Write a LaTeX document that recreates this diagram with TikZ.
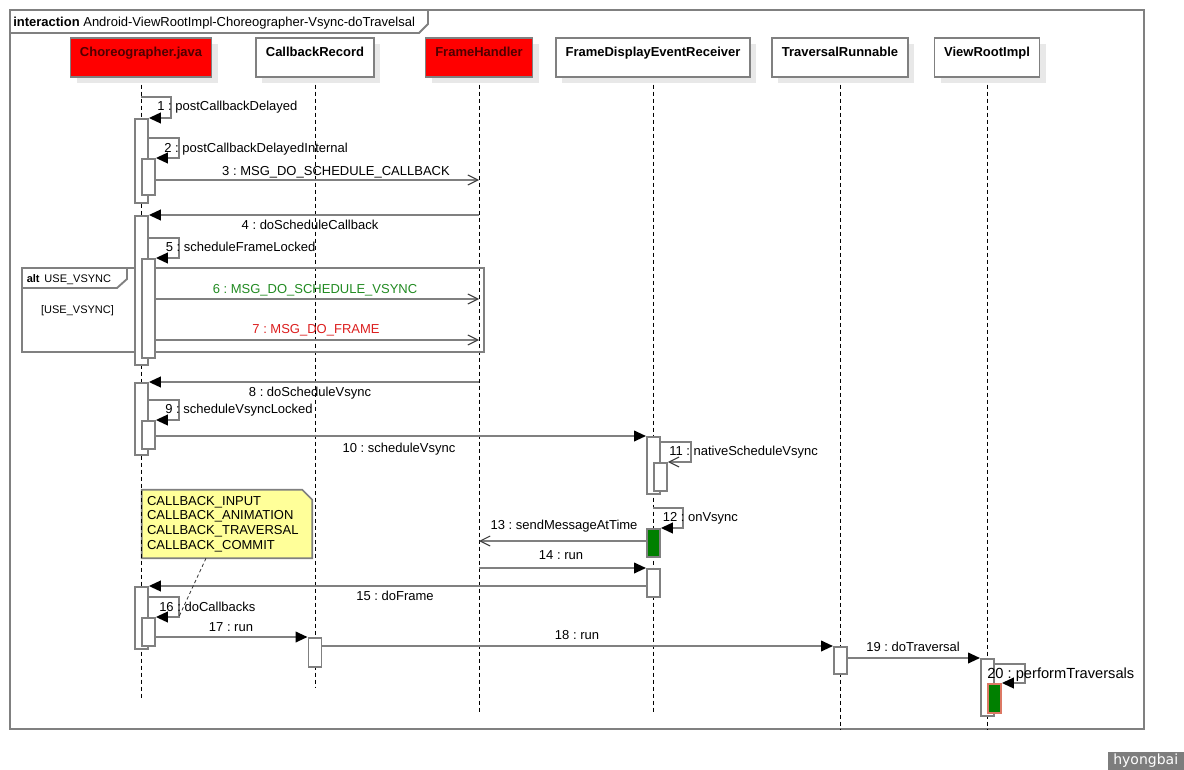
\documentclass[tikz,border=0pt]{standalone}
\usepackage{fontspec}
\setmainfont{Liberation Sans}
\newfontfamily\markfont{DejaVu Sans}
\usetikzlibrary{arrows.meta,shadows,backgrounds}

\definecolor{linegray}{RGB}{128,128,128}
\definecolor{headred}{RGB}{255,0,0}
\definecolor{headtext}{RGB}{80,0,0}
\definecolor{actgreen}{RGB}{0,128,0}
\definecolor{notefill}{RGB}{255,255,153}
\definecolor{shadowgray}{RGB}{232,232,232}
\definecolor{txtgreen}{RGB}{34,139,34}
\definecolor{txtred}{RGB}{220,30,30}
\definecolor{salmon}{RGB}{220,120,100}
\definecolor{markgray}{RGB}{125,125,125}

\begin{document}
\frenchspacing
\begin{tikzpicture}[x=0.75pt,y=-0.75pt,
  every node/.style={font=\fontsize{9.75}{11}\selectfont},
  frame/.style={draw=linegray, line width=1.4pt},
  head/.style={draw=linegray, line width=1.4pt, anchor=north, inner xsep=0pt,
    inner ysep=7pt, text height=7pt, text depth=8.25pt,
    font=\fontsize{9.75}{11}\selectfont\bfseries,
    drop shadow={shadow xshift=4.5pt, shadow yshift=-4.5pt, fill=shadowgray, opacity=1}},
  life/.style={draw=black, line width=0.75pt, dash pattern=on 3pt off 2.25pt},
  act/.style={draw=linegray, line width=1.4pt, fill=white, inner sep=0pt,
    minimum width=9.75pt, anchor=north west},
  msg/.style={draw=linegray, line width=1.4pt},
  call/.style={msg, -{Triangle[length=9pt 0,width=8pt 0,black]}},
  async/.style={msg, -{Straight Barb[length=7.5pt 0,width=7.5pt 0,line width=0.8pt,darkgray]}},
  lbl/.style={inner sep=0pt, text height=7pt, text depth=0pt},
  lblw/.style={lbl, anchor=west},
  note/.style={inner xsep=3.75pt, inner ysep=0pt, text width=120pt, align=left,
    minimum height=51pt},
  notelink/.style={draw=black!80, line width=0.6pt, dash pattern=on 2.5pt off 2pt}
]
\useasboundingbox (0,0) rectangle (1184,770);
\begin{scope}[on background layer]
  \fill[white] (0,0) rectangle (1184,770);
\end{scope}

% interaction frame and its title tab
\draw[frame] (10,10) rectangle (1144,729);
\draw[frame] (10,33) -- (419,33) -- (428,24) -- (428,10);
\node[lblw] (title) at (13,21.5) {\textbf{interaction} Android-ViewRootImpl-Choreographer-Vsync-doTravelsal};

% participants
\node[head, fill=headred, text=headtext, minimum width=105.75pt] (ch) at (141,37) {Choreographer.java};
\node[head, fill=white, minimum width=88.5pt] (cr) at (315,37) {CallbackRecord};
\node[head, fill=headred, text=headtext, minimum width=80.25pt] (fh) at (479,37) {FrameHandler};
\node[head, fill=white, minimum width=145.5pt] (fd) at (653,37) {FrameDisplayEventReceiver};
\node[head, fill=white, minimum width=102pt] (tr) at (840,37) {TraversalRunnable};
\node[head, fill=white, minimum width=78.75pt] (vr) at (987,37) {ViewRootImpl};

% lifelines
\draw[life] ([yshift=-5pt]ch.south) -- (ch |- 0,698);
\draw[life] ([yshift=-5pt]cr.south) -- (cr |- 0,688);
\draw[life] ([yshift=-5pt]fh.south) -- (fh |- 0,712);
\draw[life] ([yshift=-5pt]fd.south) -- (fd |- 0,712);
\draw[life] ([yshift=-5pt]tr.south) -- (tr |- 0,729);
\draw[life] ([yshift=-5pt]vr.south) -- (vr |- 0,729);

% alt fragment
\draw[frame] (22,268) rectangle (484,352);
\draw[frame] (22,288) -- (117,288) -- (127,279) -- (127,268);
\node[lblw, text height=6pt, font=\fontsize{8.25}{10}\selectfont] (altlbl) at (26.5,278.5) {\textbf{alt}\ \,USE\_VSYNC};
\node[lbl, text height=6pt, font=\fontsize{8.25}{10}\selectfont] (guard) at (77.5,309.5) {[USE\_VSYNC]};

% activation bars
\node[act, minimum height=63pt] (c1) at (134,118) {};
\node[act, minimum height=27pt] (c2) at (141,158) {};
\node[act, minimum height=111.75pt] (c3) at (134,215) {};
\node[act, minimum height=74.25pt] (c4) at (141,258) {};
\node[act, minimum height=54pt] (c5) at (134,382) {};
\node[act, minimum height=21pt] (c6) at (141,420) {};
\node[act, minimum height=42.75pt] (f1) at (646,436) {};
\node[act, minimum height=21pt] (f2) at (653,462) {};
\node[act, minimum height=21pt, fill=actgreen] (f3) at (646,528) {};
\node[act, minimum height=21pt] (f4) at (646,568) {};
\node[act, minimum height=46.5pt] (c7) at (134,586) {};
\node[act, minimum height=21pt] (c8) at (141,617) {};
\node[act, minimum height=21.75pt] (r1) at (307.5,637) {};
\node[act, minimum height=20.25pt] (t1) at (833,646) {};
\node[act, minimum height=42.75pt] (v1) at (980,658) {};
\node[act, minimum height=21.75pt, fill=actgreen, draw=salmon] (v2) at (987,683) {};

% messages
\draw[call] (ch |- 0,97) -- ++(30,0) |- (c1.north east);
\node[lblw] (m1) at (157,106) {1 : postCallbackDelayed};
\draw[call] (c1.east |- 0,138) -- ++(30,0) |- (c2.north east);
\node[lblw] (m2) at (164,148) {2 : postCallbackDelayedInternal};
\draw[async] (c2.east |- 0,180) -- (fh |- 0,180);
\node[lbl] (m3) at (336,171) {3 : MSG\_DO\_SCHEDULE\_CALLBACK};
\draw[call] (fh |- 0,215) -- (c3.north east);
\node[lbl] (m4) at (310,225) {4 : doScheduleCallback};
\draw[call] (c3.east |- 0,238) -- ++(30,0) |- (c4.north east);
\node[lblw] (m5) at (165.5,247) {5 : scheduleFrameLocked};
\draw[async] (c4.east |- 0,299) -- (fh |- 0,299);
\node[lbl, text=txtgreen] (m6) at (315,289) {6 : MSG\_DO\_SCHEDULE\_VSYNC};
\draw[async] (c4.east |- 0,340) -- (fh |- 0,340);
\node[lbl, text=txtred] (m7) at (316,329) {7 : MSG\_DO\_FRAME};
\draw[call] (fh |- 0,382) -- (c5.north east);
\node[lbl] (m8) at (310,392) {8 : doScheduleVsync};
\draw[call] (c5.east |- 0,400) -- ++(30,0) |- (c6.north east);
\node[lblw] (m9) at (165,409) {9 : scheduleVsyncLocked};
\draw[call] (c6.east |- 0,436) -- (f1.north west);
\node[lbl] (m10) at (399,448) {10 : scheduleVsync};
\draw[async] (f1.east |- 0,442) -- ++(30,0) |- (f2.north east);
\node[lblw] (m11) at (669,451) {11 : nativeScheduleVsync};
\draw[call] (fd |- 0,508) -- ++(30,0) |- (f3.north east);
\node[lblw] (m12) at (662.5,517) {12 : onVsync};
\draw[async] (f3.west |- 0,541) -- (fh |- 0,541);
\node[lbl] (m13) at (564,525) {13 : sendMessageAtTime};
\draw[call] (fh |- 0,568) -- (f4.north west);
\node[lbl] (m14) at (561,555) {14 : run};
\draw[call] (f4.west |- 0,586) -- (c7.north east);
\node[lbl] (m15) at (395,596) {15 : doFrame};
\draw[call] (c7.east |- 0,597) -- ++(30,0) |- (c8.north east);
\node[lblw] (m16) at (159,607) {16 : doCallbacks};
\draw[call] (c8.east |- 0,637) -- (r1.north west);
\node[lbl] (m17) at (231,627) {17 : run};
\draw[call] (r1.east |- 0,646) -- (t1.north west);
\node[lbl] (m18) at (577,635) {18 : run};
\draw[call] (t1.east |- 0,658) -- (v1.north west);
\node[lbl] (m19) at (913,647) {19 : doTraversal};
\draw[call] (v1.east |- 0,664) -- ++(30,0) |- (v2.north east);
\node[lblw, text height=8pt, font=\fontsize{11}{13}\selectfont] (m20) at (987,673) {20 : performTraversals};

% note on the callback types
\node[note] (nt) at (227,524) {CALLBACK\_INPUT\\CALLBACK\_ANIMATION\\CALLBACK\_TRAVERSAL\\CALLBACK\_COMMIT};
\begin{scope}[on background layer]
  \draw[draw=linegray, line width=1.2pt, fill=notefill]
    (nt.north west) -- ([xshift=-7.5pt]nt.north east) -- ([yshift=-7.5pt]nt.north east)
    -- (nt.south east) -- (nt.south west) -- cycle;
\end{scope}
\draw[notelink] ([xshift=-15.75pt]nt.south) -- ([xshift=17.25pt]c8.north east);

% author mark
\node[fill=markgray, text=white, anchor=south east, minimum width=57pt,
  minimum height=13.5pt, inner sep=0pt, font=\markfont\fontsize{10.5}{12}\selectfont] (mark) at (1184,770) {hyongbai};
\end{tikzpicture}
\end{document}
